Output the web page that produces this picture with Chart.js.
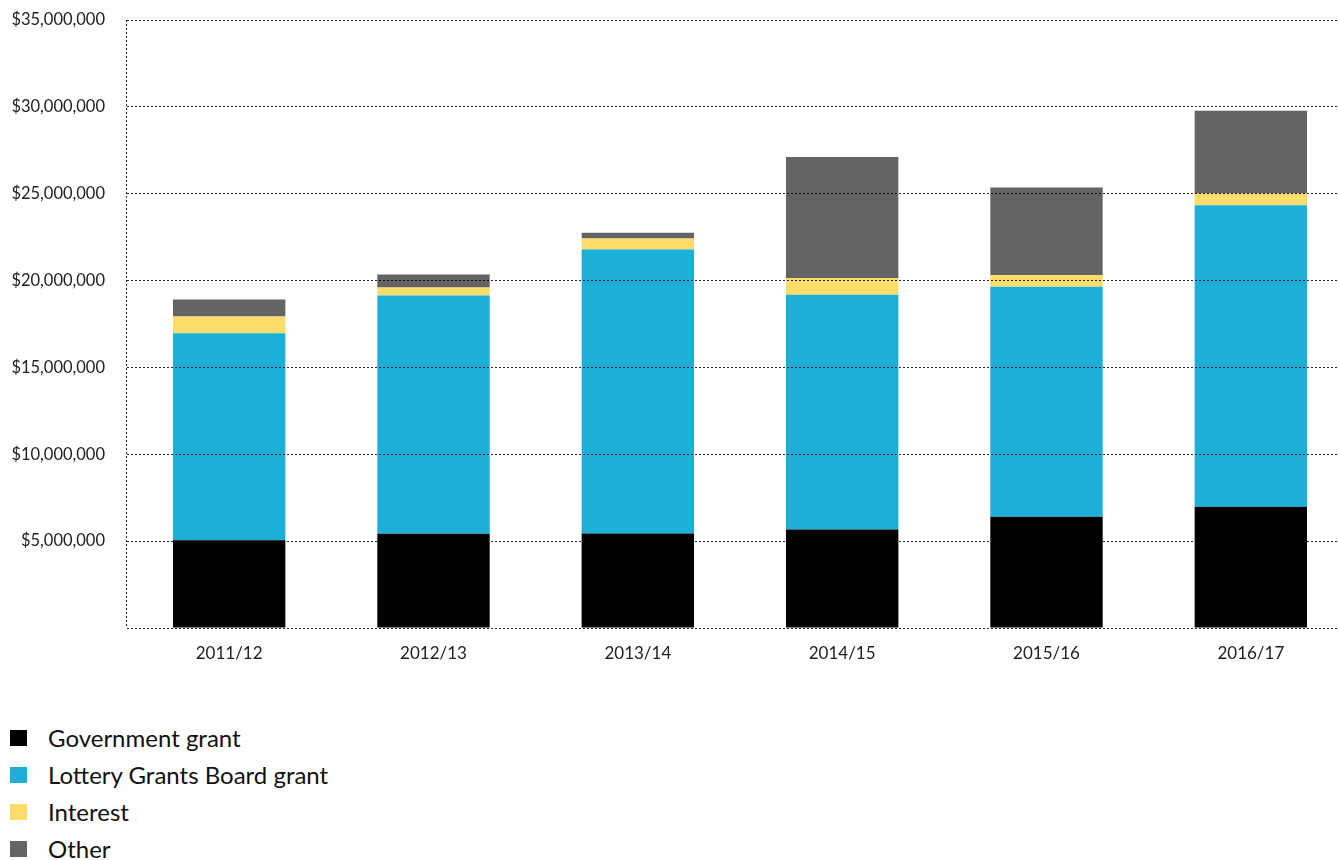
<!DOCTYPE html>
<html>
<head>
<meta charset="utf-8">
<script src="https://cdn.jsdelivr.net/npm/chart.js@4/dist/chart.umd.min.js"></script>
<style>
  html, body { margin: 0; padding: 0; background: #fff; overflow: hidden; width: 1339px; height: 860px; }
  #wrap { position: absolute; left: 0; top: 0; width: 1360px; height: 700px; }
  #legend { position: absolute; left: 10px; top: 719px; font-family: Lato, "Open Sans", sans-serif; font-size: 24px; color: #111; }
  .item { height: 37px; display: flex; align-items: center; }
  .sw { width: 17px; height: 16px; margin-right: 21px; }
</style>
</head>
<body>
<div id="wrap"><canvas id="c" width="1360" height="700"></canvas></div>
<div id="legend"></div>
<script>
const categories = ["2011/12", "2012/13", "2013/14", "2014/15", "2015/16", "2016/17"];
const governmentGrant = [5050000, 5420000, 5440000, 5670000, 6400000, 6980000];
const lotteryGrant = [11920000, 13720000, 16350000, 13510000, 13240000, 17360000];
const interest = [960000, 460000, 630000, 970000, 680000, 670000];
const other = [980000, 750000, 340000, 6960000, 5040000, 4770000];
const seriesNames = ["Government grant", "Lottery Grants Board grant", "Interest", "Other"];
const seriesColors = ["#000000", "#1cafd8", "#fcdd6a", "#646464"];
const yTicks = [0, 5000000, 10000000, 15000000, 20000000, 25000000, 30000000, 35000000];

const seriesData = [governmentGrant, lotteryGrant, interest, other];
const datasets = seriesNames.map((name, i) => ({
  label: name,
  data: seriesData[i],
  backgroundColor: seriesColors[i],
  borderWidth: 0,
  barPercentage: 0.55,
  categoryPercentage: 1.0
}));

const fontFam = 'Lato, "Open Sans", sans-serif';
const lineCol = 'rgba(0,0,0,0.85)';
const chart = new Chart(document.getElementById('c'), {
  type: 'bar',
  data: { labels: categories, datasets },
  options: {
    responsive: false,
    animation: false,
    devicePixelRatio: 1,
    layout: { padding: { top: 0, right: 7, left: 0, bottom: 0 } },
    plugins: { legend: { display: false }, tooltip: { enabled: false } },
    scales: {
      x: {
        stacked: true,
        grid: {
          display: true,
          drawTicks: false,
          offset: true,
          z: 1,
          lineWidth: 1,
          color: (ctx) => ctx.index === 0 ? lineCol : 'rgba(0,0,0,0)'
        },
        border: { display: false, dash: [2, 2] },
        ticks: { color: '#222', padding: 15, font: { family: fontFam, size: 17 } },
        afterFit: (s) => { s.height = 72; }
      },
      y: {
        stacked: true,
        min: 0,
        max: 35000000,
        afterBuildTicks: (s) => { s.ticks = yTicks.map(v => ({ value: v })); },
        grid: { color: lineCol, lineWidth: 1, drawTicks: false, z: 1 },
        border: { display: false, dash: [2, 2] },
        ticks: {
          color: '#222',
          padding: 22,
          font: { family: fontFam, size: 16.5 },
          callback: (v) => v === 0 ? '' : '$' + v.toLocaleString('en-US')
        },
        afterFit: (s) => { s.width = 127; s.paddingTop = 20; s.paddingBottom = 0; }
      }
    }
  }
});

const legend = document.getElementById('legend');
chart.data.datasets.forEach(ds => {
  const it = document.createElement('div');
  it.className = 'item';
  const sw = document.createElement('span');
  sw.className = 'sw';
  sw.style.background = ds.backgroundColor;
  const tx = document.createElement('span');
  tx.textContent = ds.label;
  it.appendChild(sw); it.appendChild(tx);
  legend.appendChild(it);
});
</script>
</body>
</html>
